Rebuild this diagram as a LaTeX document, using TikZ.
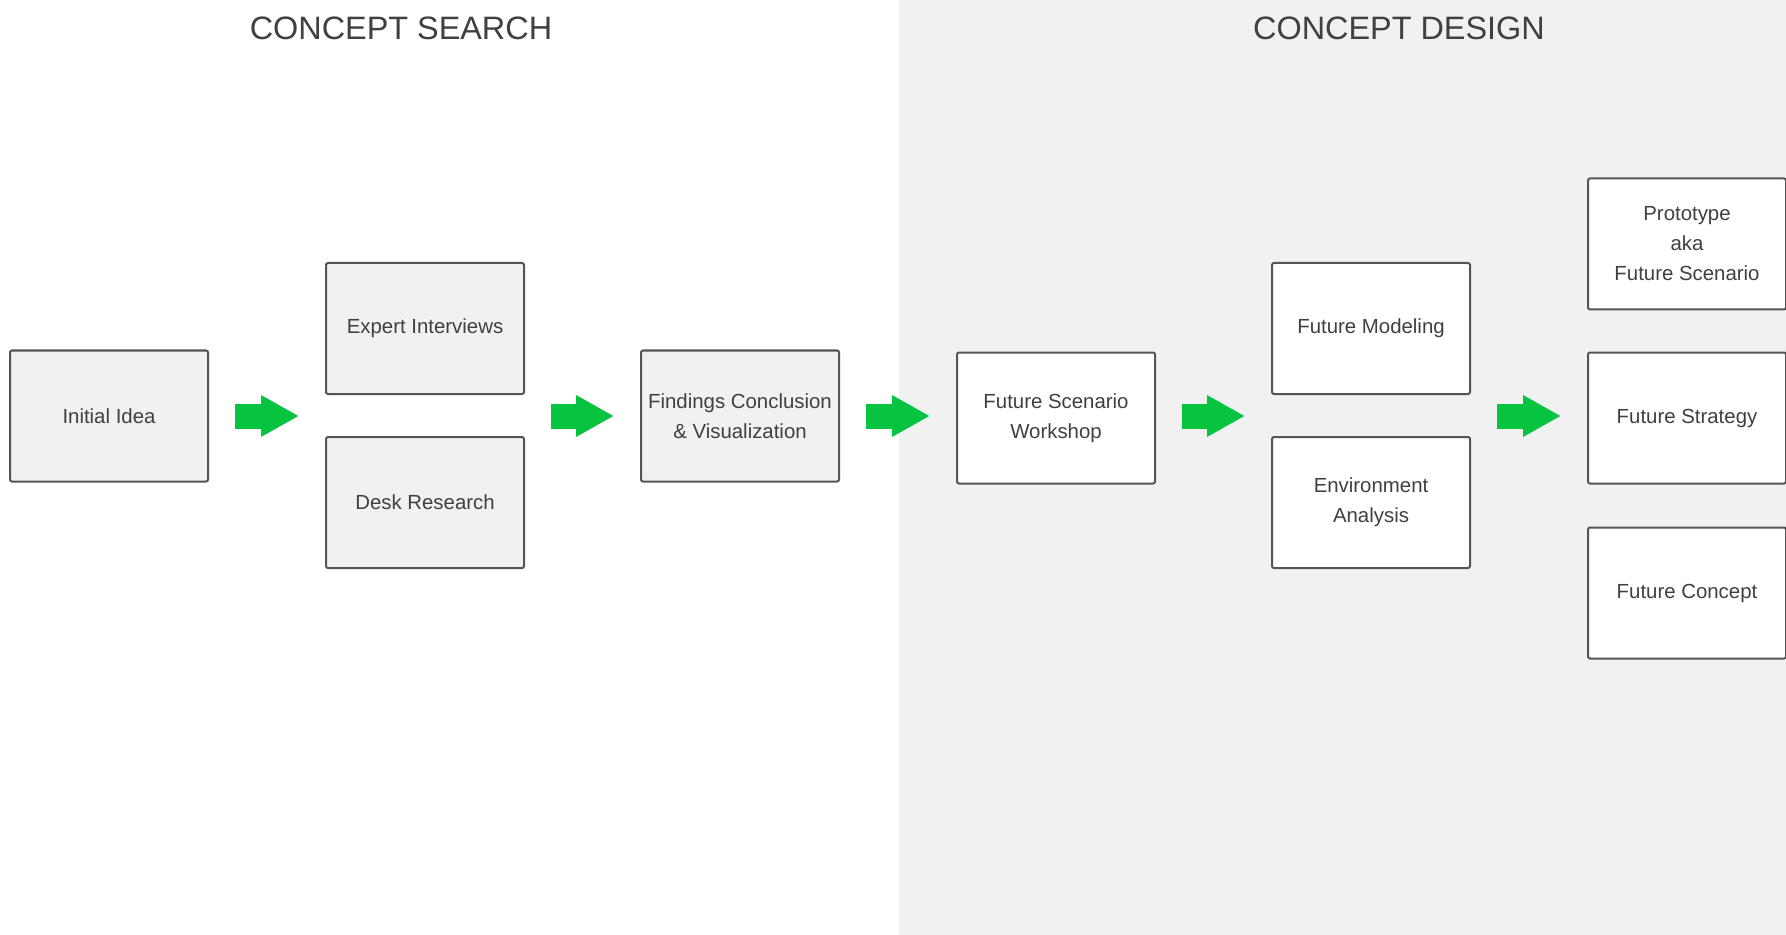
\documentclass[tikz,border=0pt]{standalone}
\usepackage{fontspec}
\setmainfont{Liberation Sans}
\usetikzlibrary{arrows.meta}
\definecolor{panelgray}{HTML}{F1F1F1}
\definecolor{boxline}{HTML}{555555}
\definecolor{txtgray}{HTML}{404040}
\definecolor{flowgreen}{RGB}{6,195,64}
\tikzset{
  stage/.style={draw=boxline, line width=1pt, rounded corners=1pt,
    minimum width=99pt, minimum height=65.5pt, inner sep=0pt,
    align=center, text=txtgray, font=\fontsize{10.2}{15}\selectfont},
  searchbox/.style={stage, fill=panelgray},
  designbox/.style={stage, fill=white},
  heading/.style={text=txtgray, font=\fontsize{16.2}{18}\selectfont},
  flow/.style={draw=flowgreen, line width=12.5pt,
    -{Triangle[length=19pt, width=19.5pt]}, shorten <=13pt, shorten >=13pt}
}
\begin{document}
\begin{tikzpicture}[x=0.5pt, y=-0.5pt]
  \useasboundingbox (0,0) rectangle (1786,935);
  % two phases: white left half, grey right half
  \fill[white] (0,0) rectangle (1786,935);
  \fill[panelgray] (899,0) rectangle (1786,935);

  \node[heading] (tsearch) at (401,28) {CONCEPT SEARCH};
  \node[heading] (tdesign) at (1399,28) {CONCEPT DESIGN};

  % concept search
  \node[searchbox] (idea)   at (109,416)   {Initial Idea};
  \node[searchbox] (expert) at (425,328.5) {Expert Interviews};
  \node[searchbox] (desk)   at (425,502.5) {Desk Research};
  \node[searchbox] (find)   at (740,416)   {Findings Conclusion\\\& Visualization};

  % concept design
  \node[designbox] (fsw)     at (1056,418)  {Future Scenario\\Workshop};
  \node[designbox] (fmod)    at (1371,328.5) {Future Modeling};
  \node[designbox] (env)     at (1371,502.5) {Environment\\Analysis};
  \node[designbox] (proto)   at (1687,244)  {Prototype\\aka\\Future Scenario};
  \node[designbox] (strat)   at (1687,418)  {Future Strategy};
  \node[designbox] (concept) at (1687,593)  {Future Concept};

  % green flow arrows between the stages
  \draw[flow] (idea.east) -- (idea.east -| expert.west);
  \draw[flow] (idea.east -| expert.east) -- (find.west);
  \draw[flow] (find.east) -- (find.east -| fsw.west);
  \draw[flow] (find.east -| fsw.east) -- (find.east -| fmod.west);
  \draw[flow] (find.east -| fmod.east) -- (find.east -| strat.west);
\end{tikzpicture}
\end{document}
